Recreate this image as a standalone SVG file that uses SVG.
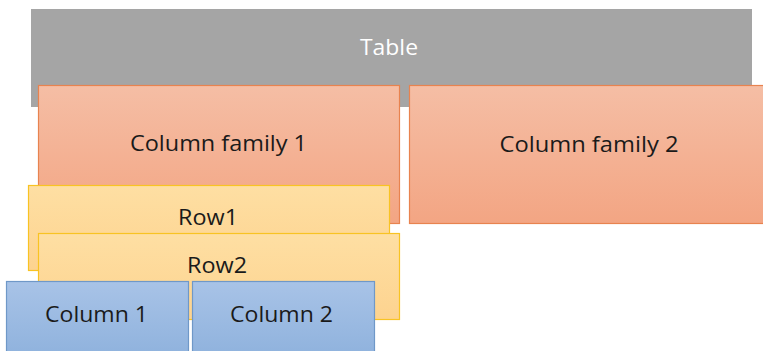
<svg xmlns="http://www.w3.org/2000/svg" width="763" height="351" viewBox="0 0 763 351">
  <defs>
    <linearGradient id="gFamily" x1="0" y1="0" x2="0" y2="1">
      <stop offset="0" stop-color="#f5bea5"/>
      <stop offset="1" stop-color="#f3a583"/>
    </linearGradient>
    <linearGradient id="gRow" x1="0" y1="0" x2="0" y2="1">
      <stop offset="0" stop-color="#fedfa3"/>
      <stop offset="1" stop-color="#fdd38f"/>
    </linearGradient>
    <linearGradient id="gCol" x1="0" y1="0" x2="0" y2="1">
      <stop offset="0" stop-color="#a8c3e7"/>
      <stop offset="1" stop-color="#8fb2dd"/>
    </linearGradient>
  </defs>
  <style>
    text { font-family: "Open Sans", "Liberation Sans", sans-serif; text-anchor: middle; }
    .table { fill: #a5a5a5; }
    .family { fill: url(#gFamily); stroke: #e8834f; stroke-width: 1.2; }
    .row { fill: url(#gRow); stroke: #f8c323; stroke-width: 1.2; }
    .col { fill: url(#gCol); stroke: #6f98c8; stroke-width: 1.2; }
    .lbl { fill: #1a1a1a; font-size: 21px; }
    .lblw { fill: #ffffff; font-size: 22px; }
  </style>

  <g id="table">
    <rect class="table" x="31" y="9" width="721" height="98"/>
    <text class="lblw" x="389" y="55" textLength="58" lengthAdjust="spacingAndGlyphs">Table</text>
  </g>

  <g id="column-family-1">
    <rect class="family" x="38.5" y="85.5" width="361" height="138"/>
    <text class="lbl" x="218.5" y="151" textLength="177" lengthAdjust="spacingAndGlyphs">Column family 1</text>
  </g>

  <g id="column-family-2">
    <rect class="family" x="409.5" y="85.5" width="360" height="138"/>
    <text class="lbl" x="589" y="152" textLength="179" lengthAdjust="spacingAndGlyphs">Column family 2</text>
  </g>

  <g id="row-1">
    <rect class="row" x="28.5" y="185.5" width="361" height="85"/>
    <text class="lbl" x="208" y="225" textLength="60" lengthAdjust="spacingAndGlyphs">Row1</text>
  </g>

  <g id="row-2">
    <rect class="row" x="38.5" y="233.5" width="361" height="86"/>
    <text class="lbl" x="217" y="273" textLength="60" lengthAdjust="spacingAndGlyphs">Row2</text>
  </g>

  <g id="column-1">
    <rect class="col" x="6.5" y="281.5" width="182" height="75"/>
    <text class="lbl" x="96.5" y="322" textLength="103" lengthAdjust="spacingAndGlyphs">Column 1</text>
  </g>

  <g id="column-2">
    <rect class="col" x="192.5" y="281.5" width="182" height="75"/>
    <text class="lbl" x="281.5" y="322" textLength="103" lengthAdjust="spacingAndGlyphs">Column 2</text>
  </g>

  <g id="connectors"/>
</svg>
